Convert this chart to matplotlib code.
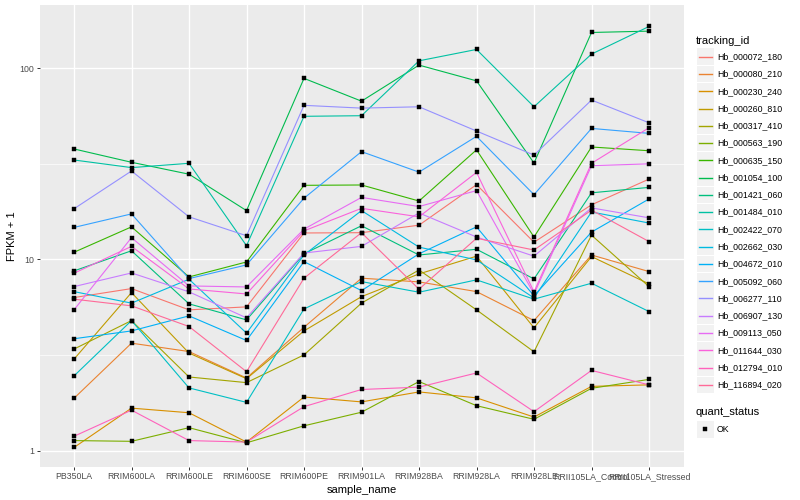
import matplotlib
matplotlib.use("Agg")
import matplotlib.pyplot as plt
import numpy as np
from matplotlib.patches import Rectangle
from matplotlib.lines import Line2D

samples = ["PB350LA", "RRIM600LA", "RRIM600LE", "RRIM600SE", "RRIM600PE", "RRIM901LA",
           "RRIM928BA", "RRIM928LA", "RRIM928LE", "RRII105LA_Control", "RRII105LA_Stressed"]

tracking_ids = ["Hb_000072_180", "Hb_000080_210", "Hb_000230_240", "Hb_000260_810",
                "Hb_000317_410", "Hb_000563_190", "Hb_000635_150", "Hb_001054_100",
                "Hb_001421_060", "Hb_001484_010", "Hb_002422_070", "Hb_002662_030",
                "Hb_004672_010", "Hb_005092_060", "Hb_006277_110", "Hb_006907_130",
                "Hb_009113_050", "Hb_011644_030", "Hb_012794_010", "Hb_116894_020"]

# FPKM + 1 per sample
hb_000072_180 = [6.32, 7.04, 5.45, 5.65, 13.75, 13.8, 15.1, 24.6, 12.3, 19.3, 26.3]
hb_000080_210 = [1.88, 3.65, 3.30, 2.40, 4.42, 7.98, 7.63, 6.79, 4.79, 10.55, 8.64]
hb_000230_240 = [1.04, 1.67, 1.58, 1.11, 1.91, 1.80, 2.03, 1.89, 1.50, 2.17, 2.21]
hb_000260_810 = [3.01, 6.71, 3.24, 2.38, 4.23, 6.39, 8.40, 10.4, 4.39, 10.35, 7.45]
hb_000317_410 = [3.40, 4.79, 2.43, 2.27, 3.17, 5.91, 8.81, 5.45, 3.29, 13.4, 7.21]
hb_000563_190 = [1.13, 1.12, 1.32, 1.10, 1.35, 1.59, 2.30, 1.72, 1.46, 2.12, 2.36]
hb_000635_150 = [10.9, 14.8, 8.10, 9.70, 24.4, 24.5, 20.2, 37.4, 13.1, 38.7, 37.0]
hb_001054_100 = [37.8, 32.2, 27.9, 18.0, 88.4, 67.2, 103.7, 85.8, 31.9, 153.6, 156.1]
hb_001421_060 = [8.71, 11.1, 5.86, 4.83, 10.7, 15.0, 10.55, 11.3, 7.91, 22.3, 23.8]
hb_001484_010 = [33.1, 30.2, 31.8, 11.8, 56.0, 56.4, 109.2, 125.2, 62.8, 118.4, 165.1]
hb_002422_070 = [2.46, 4.79, 2.13, 1.79, 5.51, 7.66, 6.74, 7.82, 6.20, 7.51, 5.34]
hb_002662_030 = [6.79, 5.91, 7.88, 4.12, 10.55, 18.0, 11.6, 9.94, 6.29, 17.7, 15.5]
hb_004672_010 = [3.85, 4.23, 5.07, 3.77, 9.74, 6.87, 10.7, 14.8, 6.45, 13.9, 20.7]
hb_005092_060 = [14.7, 17.3, 7.94, 9.36, 20.9, 36.6, 28.6, 44.0, 21.8, 48.4, 45.6]
hb_006277_110 = [18.4, 29.0, 16.7, 13.3, 63.9, 61.8, 62.8, 46.9, 35.1, 68.1, 51.8]
hb_006907_130 = [7.21, 8.50, 6.77, 4.95, 10.8, 11.7, 17.5, 13.1, 10.4, 18.6, 16.5]
hb_009113_050 = [5.45, 13.0, 7.27, 7.18, 14.4, 21.1, 18.9, 22.9, 6.60, 30.9, 31.6]
hb_011644_030 = [8.47, 11.7, 7.01, 6.60, 14.1, 18.5, 16.7, 28.5, 6.77, 31.8, 48.8]
hb_012794_010 = [1.19, 1.63, 1.13, 1.11, 1.70, 2.09, 2.15, 2.55, 1.60, 2.63, 2.21]
hb_116894_020 = [6.20, 5.72, 4.46, 2.59, 7.98, 13.8, 6.99, 12.9, 11.2, 18.1, 12.4]

series = [hb_000072_180, hb_000080_210, hb_000230_240, hb_000260_810, hb_000317_410,
          hb_000563_190, hb_000635_150, hb_001054_100, hb_001421_060, hb_001484_010,
          hb_002422_070, hb_002662_030, hb_004672_010, hb_005092_060, hb_006277_110,
          hb_006907_130, hb_009113_050, hb_011644_030, hb_012794_010, hb_116894_020]


def hcl_hex(h, c=100, l=65):
    hr = np.radians(h)
    u, v = c * np.cos(hr), c * np.sin(hr)
    xn, yn, zn = 95.047, 100.0, 108.883
    y = yn * ((l + 16) / 116) ** 3
    un = 4 * xn / (xn + 15 * yn + 3 * zn)
    vn = 9 * yn / (xn + 15 * yn + 3 * zn)
    up = u / (13 * l) + un
    vp = v / (13 * l) + vn
    x = y * 9 * up / (4 * vp)
    z = y * (12 - 3 * up - 20 * vp) / (4 * vp)
    rgb = np.array([3.240479 * x - 1.537150 * y - 0.498535 * z,
                    -0.969256 * x + 1.875992 * y + 0.041556 * z,
                    0.055648 * x - 0.204043 * y + 1.057311 * z]) / 100
    rgb = np.where(rgb <= 0.0031308, 12.92 * rgb, 1.055 * np.abs(rgb) ** (1 / 2.4) - 0.055)
    return tuple(np.clip(rgb, 0, 1))


def hue_pal(n):
    return [hcl_hex(h) for h in np.linspace(15, 375, n + 1)[:-1]]


colors = hue_pal(len(tracking_ids))

W, H = 800, 500
fig = plt.figure(figsize=(8, 5), dpi=100)
ax = fig.add_axes([39.5 / W, 1 - 467 / H, (683.5 - 39.5) / W, (467 - 5) / H])
ax.set_facecolor("#EBEBEB")
for s in ax.spines.values():
    s.set_visible(False)

x = np.arange(len(samples))
for vals, col in zip(series, colors):
    ax.plot(x, vals, color=col, lw=0.8, zorder=2)
for vals in series:
    ax.plot(x, vals, ls="none", marker="s", ms=2.5, mew=0.3, color="black", zorder=3)

ax.set_yscale("log")
ax.set_ylim(10 ** -0.085, 10 ** 2.33)
ax.set_xlim(-0.6, len(samples) - 0.4)
ax.set_yticks([1, 10, 100])
ax.set_yticklabels(["1", "10", "100"])
ax.set_yticks([10 ** 0.5, 10 ** 1.5], minor=True)
ax.yaxis.set_minor_formatter(plt.NullFormatter())
ax.set_xticks(x)
ax.set_xticklabels(samples)
ax.grid(True, which="major", color="white", lw=1.0, zorder=0)
ax.grid(True, which="minor", axis="y", color="white", lw=0.5, zorder=0)
ax.set_axisbelow(True)
ax.tick_params(which="major", length=2, width=0.7, color="#333333", pad=1.8,
               labelsize=6.3, labelcolor="#4D4D4D")
ax.tick_params(which="minor", length=0)
for lab in ax.get_xticklabels() + ax.get_yticklabels():
    lab.set_fontfamily("Liberation Sans")
ax.set_xlabel("sample_name", fontsize=8, family="Liberation Sans", labelpad=2.5)
ax.set_ylabel("FPKM + 1", fontsize=8, family="Liberation Sans", labelpad=2)


def fx(px):
    return px / W


def fy(py):
    return 1 - py / H


# legend: tracking_id
fig.text(fx(696), fy(40.5), "tracking_id", fontsize=8, family="Liberation Sans", va="center")
for i, (name, col) in enumerate(zip(tracking_ids, colors)):
    cy = 56.7 + 17.27 * i
    fig.add_artist(Rectangle((fx(697), fy(cy + 8.3)), 16.5 / W, 16.6 / H, zorder=1,
                             transform=fig.transFigure, facecolor="#F2F2F2", edgecolor="none"))
    fig.add_artist(Line2D([fx(698.5), fx(711.5)], [fy(cy), fy(cy)], color=col, lw=1.0,
                          zorder=5, transform=fig.transFigure))
    fig.text(fx(717), fy(cy), name, fontsize=6.3, family="Liberation Sans", va="center")

# legend: quant_status
fig.text(fx(696), fy(412), "quant_status", fontsize=8, family="Liberation Sans", va="center")
fig.add_artist(Rectangle((fx(697), fy(437.5)), 16.5 / W, 16.6 / H, zorder=1,
                         transform=fig.transFigure, facecolor="#F2F2F2", edgecolor="none"))
fig.add_artist(Line2D([fx(705.2)], [fy(429.2)], marker="s", ms=2.5, mew=0.3, color="black",
                      zorder=5, transform=fig.transFigure))
fig.text(fx(717), fy(429.2), "OK", fontsize=6.3, family="Liberation Sans", va="center")

fig.savefig("out.png", dpi=100, facecolor="white")
